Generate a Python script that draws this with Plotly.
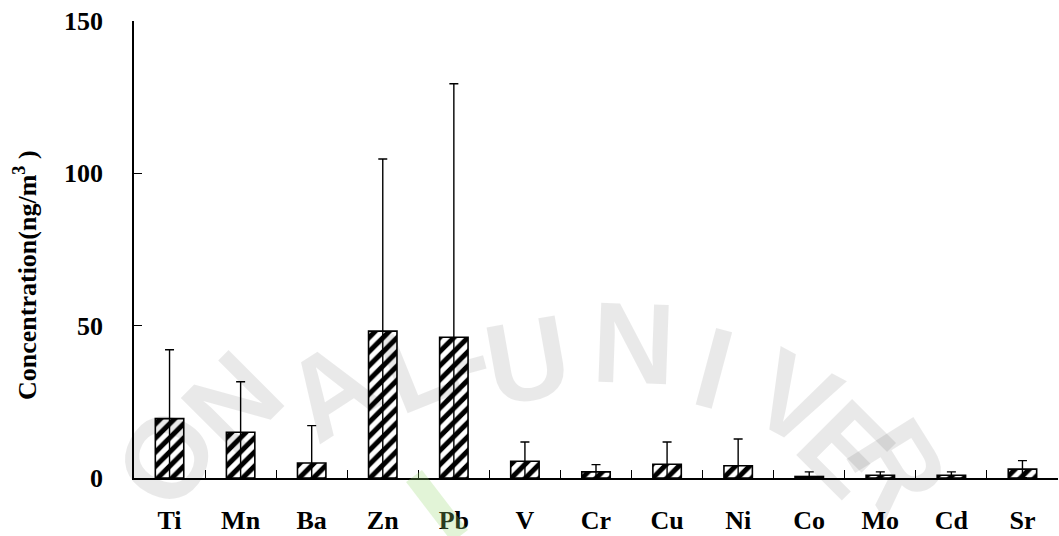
import plotly.graph_objects as go

# Mean elemental concentrations (ng/m3) with standard deviations
elements = ["Ti", "Mn", "Ba", "Zn", "Pb", "V", "Cr", "Cu", "Ni", "Co", "Mo", "Cd", "Sr"]
mean_conc = [19.5, 15.0, 4.9, 48.2, 46.2, 5.5, 2.0, 4.5, 4.0, 0.5, 0.9, 0.9, 2.9]
std_conc = [22.6, 16.6, 12.3, 56.5, 83.2, 6.3, 2.4, 7.3, 8.8, 1.5, 1.1, 1.1, 2.8]
y_ticks = [0, 50, 100, 150]

W, H = 1059, 536
ML, MR, MT, MB = 134, 1, 21, 58
PW, PH = W - ML - MR, H - MT - MB


def to_paper(px, py):
    """Convert page pixel position to paper coordinates."""
    return (px - ML) / PW, (H - MB - py) / PH


SERIF = "Liberation Serif"

fig = go.Figure(
    go.Bar(
        x=elements,
        y=mean_conc,
        width=0.4,
        marker=dict(
            color="white",
            line=dict(color="black", width=1.6),
            pattern=dict(shape="/", fgcolor="black", bgcolor="white", fgopacity=1,
                         size=10, solidity=0.5),
        ),
        error_y=dict(type="data", array=std_conc, symmetric=True,
                     color="black", thickness=1.4, width=4.5),
        hoverinfo="x+y",
    )
)

# faint seal lettering in the background
seal = [
    ("O", 166, 458, -62),
    ("N", 232, 402, -45),
    ("A", 330, 390, -33),
    ("L", 418, 366, -22),
    ("-", 468, 356, -15),
    ("U", 527, 360, -10),
    ("N", 633, 343, 2),
    ("I", 714, 368, 15),
    ("V", 795, 398, 28),
    ("E", 846, 448, 45),
    ("R", 898, 466, 58),
]
annotations = []
for ch, px, py, ang in seal:
    ax, ay = to_paper(px, py)
    annotations.append(dict(
        text=ch, x=ax, y=ay, xref="paper", yref="paper", showarrow=False,
        xanchor="center", yanchor="middle", textangle=ang,
        font=dict(family="Liberation Sans", size=115, color="rgba(0,0,0,0.085)",
                  weight="bold"),
    ))

# y-axis title
tx, ty = to_paper(25, 275)
annotations.append(dict(
    text="Concentration(ng/m<sup>3</sup> )", x=tx, y=ty, xref="paper", yref="paper",
    showarrow=False, textangle=-90, xanchor="center", yanchor="middle",
    font=dict(family=SERIF, size=26, color="black", weight="bold"),
))

gx0, gy0 = to_paper(414, 476)
gx1, gy1 = to_paper(460, 536)
shapes = [dict(type="line", xref="paper", yref="paper", x0=gx0, y0=gy0, x1=gx1, y1=gy1,
               line=dict(color="rgba(150,215,110,0.28)", width=20), layer="above")]

axis_common = dict(
    showline=True, linecolor="black", linewidth=1.6,
    ticks="inside", ticklen=8, tickwidth=1.4, tickcolor="black",
    showgrid=False, zeroline=False,
    tickfont=dict(family=SERIF, size=26, color="black", weight="bold"),
)

fig.update_layout(
    width=W, height=H,
    margin=dict(l=ML, r=MR, t=MT, b=MB, pad=0),
    paper_bgcolor="white", plot_bgcolor="white",
    showlegend=False,
    font=dict(family=SERIF, color="black"),
    xaxis=dict(**axis_common, type="category", tickson="boundaries",
               range=[-0.5, len(elements) - 0.5], ticklabelstandoff=18),
    yaxis=dict(**axis_common, range=[0, 150], tickvals=y_ticks,
               ticktext=[str(v) for v in y_ticks], ticklabelstandoff=24),
    annotations=annotations,
    shapes=shapes,
)

fig.write_html("out.html")
